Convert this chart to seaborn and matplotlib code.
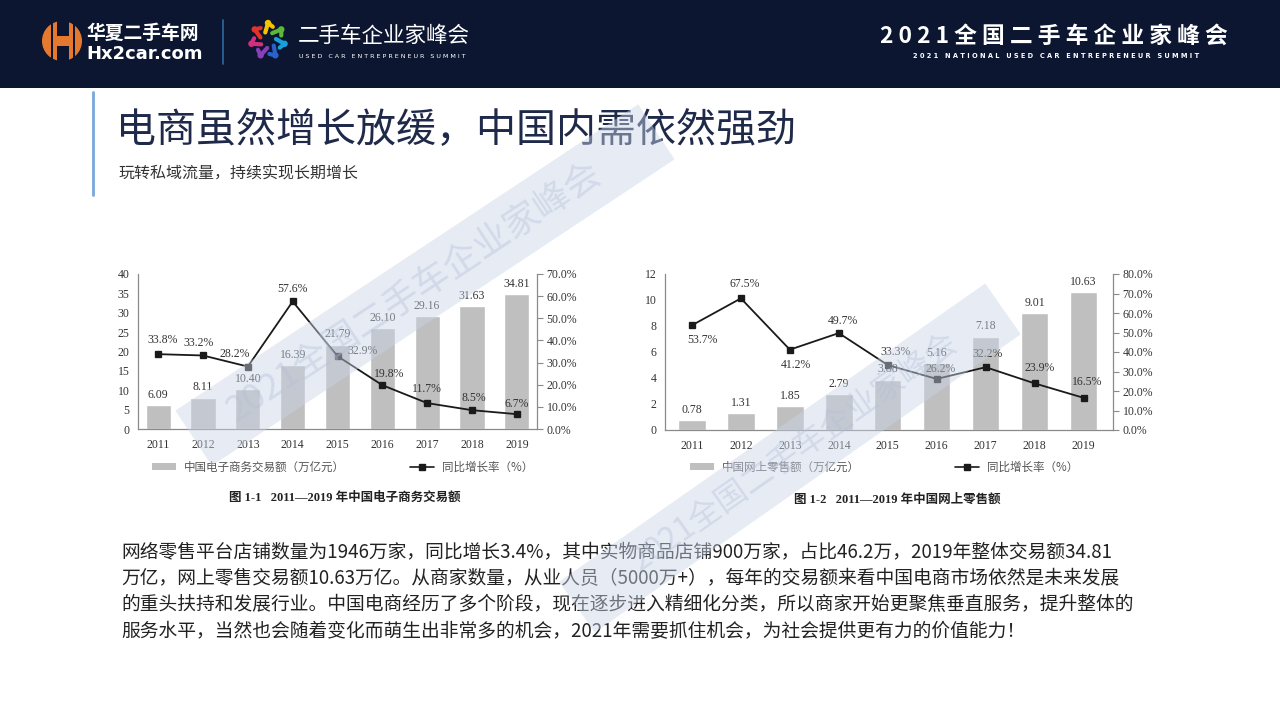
import numpy as np
import pandas as pd
import matplotlib
matplotlib.use("Agg")
import matplotlib.pyplot as plt
import seaborn as sns
from matplotlib.patches import Rectangle, Circle, Patch, Polygon
from matplotlib.lines import Line2D

# ---------------- data ----------------
years = ["2011", "2012", "2013", "2014", "2015", "2016", "2017", "2018", "2019"]
ecom_value = [6.09, 8.11, 10.40, 16.39, 21.79, 26.10, 29.16, 31.63, 34.81]
ecom_growth = [33.8, 33.2, 28.2, 57.6, 32.9, 19.8, 11.7, 8.5, 6.7]
retail_value = [0.78, 1.31, 1.85, 2.79, 3.88, 5.16, 7.18, 9.01, 10.63]
retail_growth = [53.7, 67.5, 41.2, 49.7, 33.3, 26.2, 32.2, 23.9, 16.5]

ecom_legend = ["中国电子商务交易额（万亿元）", "同比增长率（%）"]
retail_legend = ["中国网上零售额（万亿元）", "同比增长率（%）"]
ecom_caption = "图 1-1   2011—2019 年中国电子商务交易额"
retail_caption = "图 1-2   2011—2019 年中国网上零售额"

title = "电商虽然增长放缓，中国内需依然强劲"
subtitle = "玩转私域流量，持续实现长期增长"
paragraph = [
    "网络零售平台店铺数量为1946万家，同比增长3.4%，其中实物商品店铺900万家，占比46.2万，2019年整体交易额34.81",
    "万亿，网上零售交易额10.63万亿。从商家数量，从业人员（5000万+），每年的交易额来看中国电商市场依然是未来发展",
    "的重头扶持和发展行业。中国电商经历了多个阶段，现在逐步进入精细化分类，所以商家开始更聚焦垂直服务，提升整体的",
    "服务水平，当然也会随着变化而萌生出非常多的机会，2021年需要抓住机会，为社会提供更有力的价值能力！",
]
watermark = "2021全国二手车企业家峰会"

# label offsets (pixels) for growth-rate labels (style only)
ecom_offsets = [(4, 14), (-4, 12), (-13, 13), (0, 12), (25, 5), (7, 11), (0, 14), (2, 12), (0, 10)]
retail_offsets = [(11, -15), (4, 14), (6, -15), (4, 12), (8, 13), (4, 10), (2, 13), (5, 15), (4, 16)]

# ---------------- style ----------------
sns.set_theme(style="white")
plt.rcParams["font.family"] = ["Noto Sans CJK SC", "DejaVu Sans"]
SERIF = ["Liberation Serif", "Noto Sans CJK SC"]
CJK = ["Noto Sans CJK SC", "DejaVu Sans"]
BAR_C = "#bfbfbf"
LINE_C = "#1a1a1a"
SPINE_C = "#8a8a8a"
TXT_C = "#333333"

W, H = 1280, 720
fig = plt.figure(figsize=(12.8, 7.2), dpi=100)
fig.patch.set_facecolor("white")

bg = fig.add_axes([0, 0, 1, 1], zorder=-5)
bg.set_xlim(0, W)
bg.set_ylim(H, 0)
bg.axis("off")

# header band
bg.add_patch(Rectangle((0, 0), W, 88, color="#0c1631", lw=0))
# orange H logo
bg.add_patch(Circle((62, 41), 20, color="#e57a2f", lw=0))
for x0 in (50.5, 72.5):
    bg.add_patch(Rectangle((x0, 18), 2.5, 46, color="#0c1631", lw=0))
bg.add_patch(Rectangle((57, 18), 11.5, 18, color="#0c1631", lw=0))
bg.add_patch(Rectangle((57, 46), 11.5, 18, color="#0c1631", lw=0))
bg.text(86, 33, "华夏二手车网", color="white", fontsize=13.5, fontweight="bold",
        ha="left", va="center", family=CJK)
bg.text(86, 54, "Hx2car.com", color="white", fontsize=13, fontweight="bold",
        ha="left", va="center", family=["DejaVu Sans"])
bg.plot([223, 223], [20, 64], color="#2d6aa3", lw=1.2)
# colourful ring logo
ring_cols = ["#f5c400", "#5cb83a", "#16a0dc", "#2a62c9", "#8a3fb8", "#d2307e", "#e2332b"]
for i, c in enumerate(ring_cols):
    a = np.pi / 2 - i * 2 * np.pi / 7
    cx, cy = 268 + 17 * np.cos(a), 40 - 17 * np.sin(a)
    bg.add_patch(Circle((cx, cy), 3.2, color=c, lw=0))
    x1, y1 = 268 + 8 * np.cos(a + 0.35), 40 - 8 * np.sin(a + 0.35)
    x2, y2 = 268 + 14 * np.cos(a - 0.35), 40 - 14 * np.sin(a - 0.35)
    bg.plot([x1, cx, x2], [y1, cy, y2], color=c, lw=3, solid_capstyle="round")
bg.text(298, 36, "二手车企业家峰会", color="white", fontsize=15.5, ha="left", va="center", family=CJK)
bg.text(299, 56, "U S E D   C A R   E N T R E P R E N E U R   S U M M I T", color="white",
        fontsize=4.6, ha="left", va="center", family=["DejaVu Sans"])
bg.text(1054, 36, " ".join(list("2021全国二手车企业家峰会")), color="white", fontsize=16.4,
        fontweight="bold", ha="center", va="center", family=CJK)
bg.text(1056, 56, " ".join(list("2021 NATIONAL USED CAR ENTREPRENEUR SUMMIT")), color="white",
        fontsize=4.8, fontweight="bold", ha="center", va="center", family=["DejaVu Sans"])

# title area
bg.plot([93, 93], [92, 195], color="#7aa7dc", lw=2)
bg.text(116, 131, title, color="#1f2a4a", fontsize=28.8, ha="left", va="center", family=CJK)
bg.text(118, 174, subtitle, color="#333333", fontsize=11.5, ha="left", va="center", family=CJK)

# paragraph
for i, line in enumerate(paragraph):
    bg.text(121, 552 + i * 26.5, line, color="#222222", fontsize=13.5, ha="left", va="center", family=CJK)


def px2fig(x, y):
    return x / W, 1 - y / H


def draw_chart(left, right, top, bottom, values, growth, ymax, ystep, rmax, xlim,
               offsets, legend_labels, legend_x, colspace, caption, cap_x, cap_y):
    x0, y0 = px2fig(left, bottom)
    ax = fig.add_axes([x0, y0, (right - left) / W, (bottom - top) / H])
    df = pd.DataFrame({"year": years, "value": values, "growth": growth})
    sns.barplot(data=df, x="year", y="value", ax=ax, color=BAR_C, width=0.56,
                saturation=1, errorbar=None)
    ax.bar_label(ax.containers[0], labels=[f"{v:.2f}" for v in values], padding=3,
                 fontsize=8.5, color=TXT_C, family=SERIF)
    ax2 = ax.twinx()
    sns.pointplot(data=df, x="year", y="growth", ax=ax2, color=LINE_C, markers="s",
                  linestyles="-", markersize=5, linewidth=1.3, errorbar=None)
    for i, (g, (dx, dy)) in enumerate(zip(growth, offsets)):
        ax2.annotate(f"{g:.1f}%", (i, g), xytext=(dx, dy), textcoords="offset pixels",
                     ha="center", va="center", fontsize=8.5, color=TXT_C, family=SERIF)
    ax.set_xlim(*xlim)
    ax.set_ylim(0, ymax)
    ax.set_yticks(np.arange(0, ymax + 0.01, ystep))
    ax.set_yticklabels([f"{int(v)}" for v in np.arange(0, ymax + 0.01, ystep)])
    ax2.set_ylim(0, rmax)
    ax2.set_yticks(np.arange(0, rmax + 0.01, 10))
    ax2.set_yticklabels([f"{v:.1f}%" for v in np.arange(0, rmax + 0.01, 10)])
    ax.set_xlabel("")
    ax.set_ylabel("")
    ax2.set_xlabel("")
    ax2.set_ylabel("")
    for a in (ax, ax2):
        for s in a.spines.values():
            s.set_color(SPINE_C)
            s.set_linewidth(0.9)
        a.spines["top"].set_visible(False)
        a.grid(False)
        a.set_facecolor("none")
    ax.spines["right"].set_visible(False)
    ax2.spines["left"].set_visible(False)
    ax2.spines["bottom"].set_visible(False)
    ax.tick_params(axis="x", length=0, pad=7, labelsize=8.5, labelcolor=TXT_C)
    ax.tick_params(axis="y", length=0, pad=6, labelsize=8.5, labelcolor=TXT_C)
    ax2.tick_params(axis="y", length=4, width=0.8, color=SPINE_C, direction="out", pad=3,
                    labelsize=8.5, labelcolor=TXT_C)
    for lab in ax.get_xticklabels() + ax.get_yticklabels() + ax2.get_yticklabels():
        lab.set_family(SERIF)
    handles = [Patch(facecolor=BAR_C, edgecolor="none"),
               Line2D([], [], color=LINE_C, marker="s", markersize=4, lw=1.2)]
    lx, ly = px2fig(legend_x, 467)
    fig.legend(handles, legend_labels, loc="center left", bbox_to_anchor=(lx, ly), ncol=2,
               frameon=False, handlelength=2.1, handleheight=0.6, handletextpad=0.7,
               columnspacing=colspace, borderpad=0, borderaxespad=0,
               prop={"family": CJK, "size": 8.3}, labelcolor="#555555")
    cx, cy = px2fig(cap_x, cap_y)
    fig.text(cx, cy, caption, ha="center", va="center", fontsize=9, fontweight="bold",
             color="#222222", family=SERIF)
    return ax, ax2


draw_chart(138, 537, 274, 429, ecom_value, ecom_growth, 40, 5, 70, (-0.45, 8.45),
           ecom_offsets, ecom_legend, 152, 5.6, ecom_caption, 345, 498)
draw_chart(665, 1113, 274, 430, retail_value, retail_growth, 12, 2, 80, (-0.55, 8.6),
           retail_offsets, retail_legend, 690, 8.2, retail_caption, 897, 500)

# watermark bands (on top)
ov = fig.add_axes([0, 0, 1, 1], zorder=20)
ov.set_xlim(0, W)
ov.set_ylim(H, 0)
ov.axis("off")
ov.patch.set_alpha(0)


def band(cx, cy, length, width, ang, tcx, tcy, fs):
    t = np.deg2rad(ang)
    u = np.array([np.cos(t), -np.sin(t)])
    n = np.array([np.sin(t), np.cos(t)])
    c = np.array([cx, cy])
    pts = [c - u * length / 2 - n * width / 2, c + u * length / 2 - n * width / 2,
           c + u * length / 2 + n * width / 2, c - u * length / 2 + n * width / 2]
    ov.add_patch(Polygon(pts, closed=True, facecolor="#c9d4e8", edgecolor="none", alpha=0.45))
    ov.text(tcx, tcy, watermark, rotation=ang, rotation_mode="anchor", ha="center", va="center",
            fontsize=fs, color="#b4c0d8", alpha=0.4, family=CJK)


band(425, 285, 555, 66, 33.5, 414, 292, 26)
band(790, 458, 520, 62, 35, 795, 452, 23)

fig.savefig("out.png", dpi=100)
